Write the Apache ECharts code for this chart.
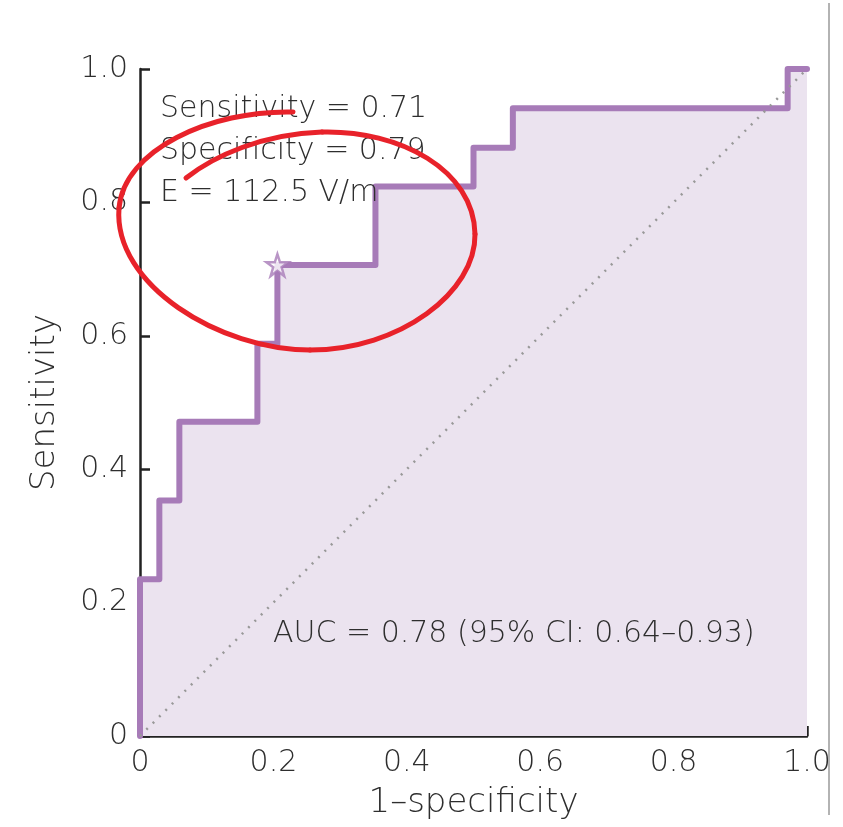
<!DOCTYPE html>
<html>
<head>
<meta charset="utf-8">
<script src="https://cdn.jsdelivr.net/npm/echarts@6/dist/echarts.min.js"></script>
<style>
  html, body { margin: 0; padding: 0; background: #fff; }
  #chart { width: 843px; height: 827px; }
</style>
</head>
<body>
<div id="chart"></div>
<script>
// ROC curve corners (1-specificity, sensitivity)
const fprValues = [0, 0, 0.029, 0.029, 0.059, 0.059, 0.176, 0.176, 0.206, 0.206, 0.353, 0.353, 0.5, 0.5, 0.559, 0.559, 0.971, 0.971, 1]
const tprValues = [0, 0.235, 0.235, 0.353, 0.353, 0.471, 0.471, 0.588, 0.588, 0.706, 0.706, 0.824, 0.824, 0.882, 0.882, 0.941, 0.941, 1, 1]
const cutoffPoint = [0.206, 0.706]
const chanceLine = [[0, 0], [1, 1]]
const axisTicks = [0, 0.2, 0.4, 0.6, 0.8, 1.0]
const annotationLines = ['Sensitivity = 0.71', 'Specificity = 0.79', 'E = 112.5 V/m']
const aucText = 'AUC = 0.78 (95% CI: 0.64\u20130.93)'

const FONT = '"DejaVu Sans", Lato, sans-serif'
const TEXT = '#2e2e2e'
const PURPLE = '#a77bb8'

const rocData = fprValues.map((x, i) => [x, tprValues[i]])
const starPath = 'path://M50,0 L61.8,35.4 L100,35.4 L69.1,57.3 L80.9,95.1 L50,72.4 L19.1,95.1 L30.9,57.3 L0,35.4 L38.2,35.4 Z'

// hand-drawn red loop, as cubic segments [x1,y1,cp1x,cp1y,cp2x,cp2y,x2,y2]
const loopSegments = [
  [293, 112, 210, 110, 124, 150, 119, 208],
  [119, 208, 113, 285, 220, 350, 310, 350],
  [310, 350, 400, 350, 476, 292, 475, 234],
  [475, 234, 474, 170, 400, 130, 322, 132],
  [322, 132, 262, 134, 214, 156, 186, 178],
]

const tickLabel = (v) => (v === 0 ? '0' : v.toFixed(1))

const chart = echarts.init(document.getElementById('chart'))

const axisCommon = {
  type: 'value',
  min: 0,
  max: 1,
  interval: axisTicks[1] - axisTicks[0],
  nameLocation: 'middle',
  nameTextStyle: { fontFamily: FONT, fontSize: 34, color: TEXT, fontWeight: 200 },
  axisLine: { show: true, lineStyle: { color: '#222', width: 2.5 } },
  axisTick: { show: true, inside: true, length: 10, lineStyle: { color: '#222', width: 2.5 } },
  axisLabel: { fontFamily: FONT, fontSize: 30, color: TEXT, fontWeight: 200, formatter: tickLabel, margin: 12 },
  splitLine: { show: false },
}

chart.setOption({
  animation: false,
  backgroundColor: '#fff',
  grid: { left: 140, right: 36, top: 69, bottom: 91, containLabel: false },
  xAxis: { ...axisCommon, name: '1\u2013specificity', nameGap: 50 },
  yAxis: { ...axisCommon, name: 'Sensitivity', nameGap: 78 },
  series: [
    {
      type: 'line',
      data: rocData,
      showSymbol: false,
      lineStyle: { color: PURPLE, width: 6, join: 'round', cap: 'round' },
      areaStyle: { color: '#ebe3ef', opacity: 1 },
      z: 2,
    },
    {
      type: 'line',
      data: chanceLine,
      showSymbol: false,
      lineStyle: { color: '#999', width: 2.5, type: [2, 7] },
      z: 3,
    },
    {
      type: 'scatter',
      data: [cutoffPoint],
      symbol: starPath,
      symbolSize: 22,
      itemStyle: { color: '#fff', borderColor: PURPLE, borderWidth: 2.5 },
      z: 5,
    },
  ],
  graphic: [
    // frame line on the right edge
    {
      type: 'line',
      shape: { x1: 829, y1: 3, x2: 829, y2: 815 },
      style: { stroke: '#9a9a9a', lineWidth: 1.5 },
    },
    ...annotationLines.map((t, i) => ({
      type: 'text',
      x: 160,
      y: 94 + i * 42,
      z: 10,
      style: { text: t, font: `200 30px ${FONT}`, fill: TEXT },
    })),
    {
      type: 'text',
      x: 273,
      y: 619,
      z: 10,
      style: { text: aucText, font: `200 30px ${FONT}`, fill: TEXT },
    },
    ...loopSegments.map((s) => ({
      type: 'bezierCurve',
      z: 20,
      shape: { x1: s[0], y1: s[1], cpx1: s[2], cpy1: s[3], cpx2: s[4], cpy2: s[5], x2: s[6], y2: s[7] },
      style: { fill: 'none', stroke: '#e8222a', lineWidth: 5, lineCap: 'round' },
    })),
  ],
})
</script>
</body>
</html>
